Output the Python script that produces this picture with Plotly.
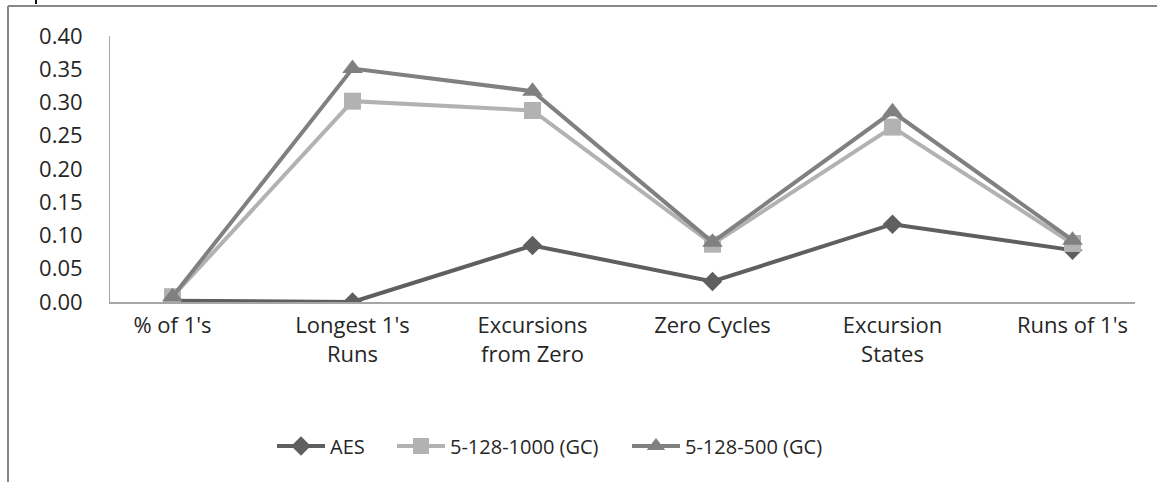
import plotly.graph_objects as go

categories = ["% of 1's", "Longest 1's<br>Runs", "Excursions<br>from Zero",
              "Zero Cycles", "Excursion<br>States", "Runs of 1's"]

aes = [0.002, 0.000, 0.085, 0.031, 0.117, 0.078]
gc_1000 = [0.008, 0.302, 0.288, 0.087, 0.263, 0.088]
gc_500 = [0.008, 0.351, 0.317, 0.090, 0.286, 0.093]

y_ticks = [0.00, 0.05, 0.10, 0.15, 0.20, 0.25, 0.30, 0.35, 0.40]

FONT = "Open Sans"
TXT = "#262626"
W, H = 1157, 482
L, R, T, B = 110, 22, 36, 180

pw = W - L - R
ph = H - T - B


def px_x(p):
    return (p - L) / pw


def px_y(p):
    return (H - B - p) / ph


fig = go.Figure()
fig.add_trace(go.Scatter(
    x=categories, y=aes, name="AES", mode="lines+markers", legend="legend",
    line=dict(color="#5f5f5f", width=4),
    marker=dict(symbol="diamond", size=15, color="#5f5f5f"),
))
fig.add_trace(go.Scatter(
    x=categories, y=gc_1000, name="5-128-1000 (GC)", mode="lines+markers", legend="legend2",
    line=dict(color="#b2b2b2", width=4),
    marker=dict(symbol="square", size=17, color="#b2b2b2"),
))
fig.add_trace(go.Scatter(
    x=categories, y=gc_500, name="5-128-500 (GC)", mode="lines+markers", legend="legend3",
    line=dict(color="#808080", width=4),
    marker=dict(symbol="triangle-up", size=18, color="#808080"),
))


def legend_at(px):
    return dict(
        orientation="h", x=px_x(px), y=px_y(446), xanchor="left", yanchor="middle",
        font=dict(family=FONT, size=20, color=TXT), itemwidth=48,
        bgcolor="rgba(0,0,0,0)",
    )


fig.update_layout(
    width=W, height=H,
    margin=dict(l=L, r=R, t=T, b=B),
    paper_bgcolor="white", plot_bgcolor="white",
    font=dict(family=FONT, size=22, color=TXT),
    showlegend=True,
    legend=legend_at(272),
    legend2=legend_at(392),
    legend3=legend_at(627),
    xaxis=dict(
        type="category", showgrid=False, zeroline=False,
        showline=True, linecolor="#a6a6a6", linewidth=2,
        ticks="", ticklabelstandoff=3,
        tickfont=dict(family=FONT, size=22, color=TXT),
    ),
    yaxis=dict(
        range=[0, 0.4], tickvals=y_ticks, tickformat=".2f",
        showgrid=False, zeroline=False,
        showline=True, linecolor="#a6a6a6", linewidth=1,
        ticks="", ticklabelstandoff=22,
        tickfont=dict(family=FONT, size=22, color=TXT),
    ),
    shapes=[
        dict(type="line", xref="paper", yref="paper",
             x0=px_x(8), x1=px_x(W + 10), y0=px_y(6), y1=px_y(6),
             line=dict(color="#878787", width=2)),
        dict(type="line", xref="paper", yref="paper",
             x0=px_x(8), x1=px_x(8), y0=px_y(6), y1=px_y(H + 10),
             line=dict(color="#878787", width=2)),
        dict(type="line", xref="paper", yref="paper",
             x0=px_x(36), x1=px_x(36), y0=px_y(-2), y1=px_y(4),
             line=dict(color="#111111", width=2)),
    ],
)

fig.write_html("out.html")
